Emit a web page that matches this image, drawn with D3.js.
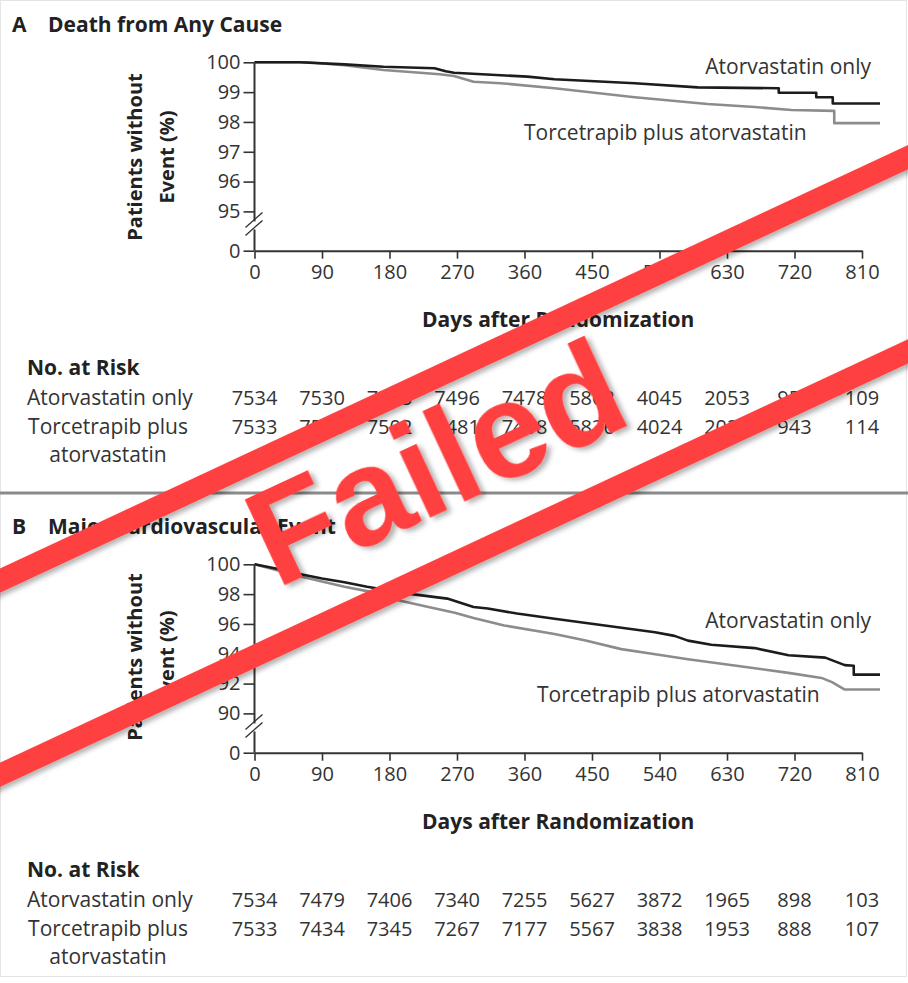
<!DOCTYPE html>
<html>
<head>
<meta charset="utf-8">
<script src="https://cdn.jsdelivr.net/npm/d3@7/dist/d3.min.js"></script>
<style>
  html, body { margin: 0; padding: 0; background: #fff; }
  svg { display: block; font-family: "Open Sans", "Noto Sans", sans-serif; }
</style>
</head>
<body>
<svg id="chart" width="908" height="983"></svg>
<script>
// ---- Data -------------------------------------------------------------
const dayTicks = [0, 90, 180, 270, 360, 450, 540, 630, 720, 810];
const groupNames = ["Atorvastatin only", "Torcetrapib plus atorvastatin"];

// Panel A: death from any cause, % of patients without event (day, %)
const deathAtorva = [[0,100],[60,100],[120,99.93],[172,99.85],[240,99.8],[255,99.7],[266,99.65],[364,99.52],[400,99.43],[507,99.3],[591,99.16],[699,99.13],[699,98.98],[749,98.98],[749,98.83],[771,98.83],[771,98.62],[834,98.62]];
const deathTorc   = [[0,100],[70,100],[120,99.9],[172,99.74],[247,99.6],[266,99.54],[292,99.35],[328,99.3],[400,99.13],[507,98.83],[604,98.6],[667,98.5],[716,98.4],[773,98.37],[773,97.96],[834,97.96]];

// Panel B: major cardiovascular event (day, %)
const mceAtorva = [[0,100],[30,99.7],[60,99.35],[90,99.05],[120,98.8],[150,98.5],[190,98.16],[210,98.0],[257,97.7],[292,97.14],[311,97.03],[350,96.7],[400,96.35],[467,95.9],[534,95.44],[560,95.2],[578,94.88],[609,94.6],[667,94.38],[712,93.9],[761,93.74],[787,93.24],[799,93.2],[799,92.6],[834,92.6]];
const mceTorc   = [[0,100],[30,99.6],[60,99.2],[90,98.85],[120,98.5],[150,98.2],[172,98.0],[190,97.6],[235,97.1],[267,96.75],[292,96.4],[333,95.9],[400,95.33],[440,94.9],[489,94.31],[530,94.0],[578,93.63],[645,93.18],[712,92.72],[756,92.38],[770,92.1],[787,91.6],[834,91.6]];

// Numbers at risk at each day tick
const riskDeathAtorva = [7534, 7530, 7513, 7496, 7478, 5862, 4045, 2053, 956, 109];
const riskDeathTorc   = [7533, 7523, 7502, 7481, 7458, 5836, 4024, 2029, 943, 114];
const riskMceAtorva   = [7534, 7479, 7406, 7340, 7255, 5627, 3872, 1965, 898, 103];
const riskMceTorc     = [7533, 7434, 7345, 7267, 7177, 5567, 3838, 1953, 888, 107];

const yTicksA = [0, 95, 96, 97, 98, 99, 100];
const yTicksB = [0, 90, 92, 94, 96, 98, 100];

// ---- Drawing -----------------------------------------------------------
const svg = d3.select("#chart");
svg.append("rect").attr("x", 0.5).attr("y", 0.5).attr("width", 906).attr("height", 976)
  .attr("fill", "#fff").attr("stroke", "#e4e4e4");

const x = d3.scaleLinear().domain([0, 810]).range([254.5, 862]);

function drawPanel(cfg) {
  const g = svg.append("g").attr("transform", `translate(0,${cfg.top})`);
  const y = d3.scaleLinear().domain([0, cfg.breakVal, 100]).range([188.7, 149.4, 0.3]);

  // title
  const t = g.append("text").attr("x", 12).attr("y", -30).attr("font-size", 21)
    .attr("font-weight", 700).attr("fill", "#222");
  t.append("tspan").text(cfg.letter);
  t.append("tspan").attr("x", 48).text(cfg.title);

  // x axis
  const xAxis = g.append("g").attr("transform", `translate(0,${y(0)})`)
    .call(d3.axisBottom(x).tickValues(dayTicks).tickSize(8).tickPadding(6).tickSizeOuter(0));
  xAxis.select(".domain").attr("stroke", "#333").attr("stroke-width", 2);
  xAxis.selectAll(".tick line").attr("stroke", "#333").attr("stroke-width", 1.6);
  xAxis.selectAll(".tick text").attr("font-size", 20).attr("fill", "#333")
    .attr("font-family", "Open Sans, sans-serif");

  // y axis, with a break between 0 and the lowest labelled value
  const yAxis = g.append("g").attr("transform", `translate(${x(0)},0)`)
    .call(d3.axisLeft(y).tickValues(cfg.yTicks).tickSize(11).tickPadding(3).tickSizeOuter(0));
  yAxis.select(".domain").remove();
  yAxis.selectAll(".tick line").attr("stroke", "#333").attr("stroke-width", 1.6);
  yAxis.selectAll(".tick text").attr("font-size", 20).attr("fill", "#333")
    .attr("font-family", "Open Sans, sans-serif");
  const b0 = y(cfg.breakVal) + 10, b1 = y(cfg.breakVal) + 18;
  g.append("line").attr("x1", x(0)).attr("x2", x(0)).attr("y1", y(100)).attr("y2", b0)
    .attr("stroke", "#333").attr("stroke-width", 2);
  g.append("line").attr("x1", x(0)).attr("x2", x(0)).attr("y1", b1).attr("y2", y(0))
    .attr("stroke", "#333").attr("stroke-width", 2);
  [b0, b1].forEach(by => {
    g.append("line").attr("x1", x(0) - 9).attr("y1", by + 6).attr("x2", x(0) + 8).attr("y2", by - 9)
      .attr("stroke", "#333").attr("stroke-width", 1.4);
  });

  // y axis title
  const yt = g.append("text").attr("transform", `translate(0,${cfg.yTitleMid}) rotate(-90)`)
    .attr("text-anchor", "middle").attr("font-size", 20).attr("font-weight", 700).attr("fill", "#222");
  yt.append("tspan").attr("x", 0).attr("y", 142).text("Patients without");
  yt.append("tspan").attr("x", 0).attr("y", 174).text("Event (%)");

  // x axis title
  g.append("text").attr("x", (x(0) + x(810)) / 2).attr("y", 265).attr("text-anchor", "middle")
    .attr("font-size", 21).attr("font-weight", 700).attr("fill", "#222").text("Days after Randomization");

  // survival curves
  const line = d3.line().x(d => x(d[0])).y(d => y(d[1]));
  g.append("path").datum(cfg.torc).attr("d", line).attr("fill", "none")
    .attr("stroke", "#8c8c8c").attr("stroke-width", 2.6).attr("stroke-linejoin", "round");
  g.append("path").datum(cfg.atorva).attr("d", line).attr("fill", "none")
    .attr("stroke", "#1c1c1c").attr("stroke-width", 2.6).attr("stroke-linejoin", "round");

  // curve labels
  g.append("text").attr("x", 871).attr("y", cfg.labAtorvaY).attr("text-anchor", "end")
    .attr("font-size", 21).attr("fill", "#333").text(groupNames[0]);
  g.append("text").attr("x", cfg.labTorcX).attr("y", cfg.labTorcY)
    .attr("font-size", 21).attr("fill", "#333").text(groupNames[1]);

  // numbers at risk
  g.append("text").attr("x", 27).attr("y", 313).attr("font-size", 21).attr("font-weight", 700)
    .attr("fill", "#222").text("No. at Risk");
  g.append("text").attr("x", 27).attr("y", 343).attr("font-size", 21).attr("fill", "#333").text(groupNames[0]);
  g.append("text").attr("x", 108).attr("y", 372).attr("text-anchor", "middle").attr("font-size", 21)
    .attr("fill", "#333").text("Torcetrapib plus");
  g.append("text").attr("x", 108).attr("y", 400).attr("text-anchor", "middle").attr("font-size", 21)
    .attr("fill", "#333").text("atorvastatin");
  [[cfg.riskAtorva, 343], [cfg.riskTorc, 372]].forEach(([vals, ry]) => {
    g.append("g").selectAll("text").data(vals).join("text")
      .attr("x", (d, i) => x(dayTicks[i])).attr("y", ry).attr("text-anchor", "middle")
      .attr("font-size", 20).attr("fill", "#333").text(d => d);
  });
}

drawPanel({ top: 62, letter: "A", title: "Death from Any Cause", breakVal: 95, yTicks: yTicksA,
  atorva: deathAtorva, torc: deathTorc, riskAtorva: riskDeathAtorva, riskTorc: riskDeathTorc,
  yTitleMid: 95, labAtorvaY: 12, labTorcX: 524, labTorcY: 78 });
drawPanel({ top: 564, letter: "B", title: "Major Cardiovascular Event", breakVal: 90, yTicks: yTicksB,
  atorva: mceAtorva, torc: mceTorc, riskAtorva: riskMceAtorva, riskTorc: riskMceTorc,
  yTitleMid: 93, labAtorvaY: 64, labTorcX: 537, labTorcY: 138 });

// divider between the two panels
svg.append("rect").attr("x", 0).attr("y", 491.5).attr("width", 908).attr("height", 3).attr("fill", "#8a8a8a");

// ---- "Failed" stamp overlay ------------------------------------------
const defs = svg.append("defs");
const f = defs.append("filter").attr("id", "stampShadow").attr("x", "-20%").attr("y", "-20%")
  .attr("width", "140%").attr("height", "140%");
f.append("feDropShadow").attr("dx", 3).attr("dy", 4).attr("stdDeviation", 2.5)
  .attr("flood-color", "#000").attr("flood-opacity", 0.3);

const stamp = svg.append("g").attr("transform", "translate(454,466) rotate(-25)")
  .attr("filter", "url(#stampShadow)");
[-88, 88].forEach(by => {
  stamp.append("rect").attr("x", -700).attr("y", by - 11).attr("width", 1400).attr("height", 22)
    .attr("fill", "#ff4040");
});
stamp.append("text").attr("x", -15).attr("y", 37).attr("text-anchor", "middle")
  .attr("font-family", "Liberation Sans, Arial, sans-serif").attr("font-weight", 700)
  .attr("font-size", 137).attr("fill", "#ff4040").text("Failed");
</script>
</body>
</html>
